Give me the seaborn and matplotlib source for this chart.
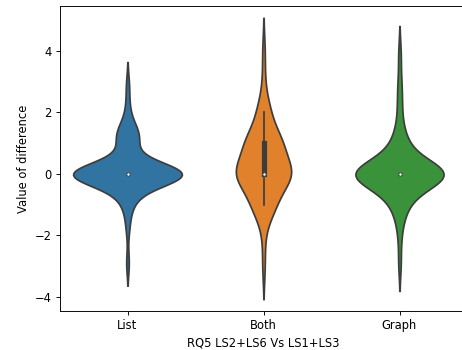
import numpy as np
import pandas as pd
import seaborn as sns
from matplotlib import pyplot as plt

categories = ['List', 'Both', 'Graph']

# difference values and how many times each one was observed
list_values = [-2.9, -1.75, -1.25, -1.0, -0.75, -0.5, -0.25,
               0.0, 0.25, 0.5, 1.0, 1.25, 1.5, 1.75, 2.25, 2.9]
list_counts = [1, 1, 1, 1, 2, 4, 2,
               37, 1, 3, 3, 4, 2, 1, 1, 1]

both_values = [-3, -2, -1, 0, 1, 2, 3, 4]
both_counts = [1, 1, 9, 22, 14, 5, 1, 1]

graph_values = [-2.9, -2.0, -1.5, -1.25, -1.0, -0.75, -0.5, -0.25,
                0.0, 0.25, 0.5, 0.75, 1.0, 1.25, 1.5, 2.0, 2.5, 3.0, 3.9]
graph_counts = [1, 1, 1, 1, 2, 3, 3, 2,
                32, 1, 2, 3, 2, 1, 1, 1, 1, 1, 1]


def build_frame():
    parts = []
    for name, values, counts in zip(categories,
                                    [list_values, both_values, graph_values],
                                    [list_counts, both_counts, graph_counts]):
        diffs = np.repeat(values, counts)
        parts.append(pd.DataFrame({'Method': name, 'Difference': diffs}))
    return pd.concat(parts, ignore_index=True)


def main():
    df = build_frame()

    dpi = 83
    fig, ax = plt.subplots(figsize=(462 / dpi, 350 / dpi), dpi=dpi)
    ax.set_position([59.5 / 462, 39.3 / 350, 408 / 462, 304.7 / 350])

    sns.violinplot(data=df, x='Method', y='Difference', hue='Method',
                   order=categories, hue_order=categories, legend=False,
                   common_norm=True, linewidth=1.5,
                   inner_kws=dict(box_width=4.5, whis_width=1.5, marker='o'),
                   ax=ax)

    # small white median dot with a grey rim, like older seaborn
    for line in ax.lines:
        if line.get_marker() == 'o':
            line.set_markersize(3)
            line.set_markeredgecolor('#3f3f3f')
            line.set_markeredgewidth(0.8)

    ax.set_ylim(-4.45, 5.46)
    ax.set_xlabel('RQ5 LS2+LS6 Vs LS1+LS3')
    ax.set_ylabel('Value of difference')

    fig.savefig('out.png', dpi=dpi)


if __name__ == '__main__':
    main()
